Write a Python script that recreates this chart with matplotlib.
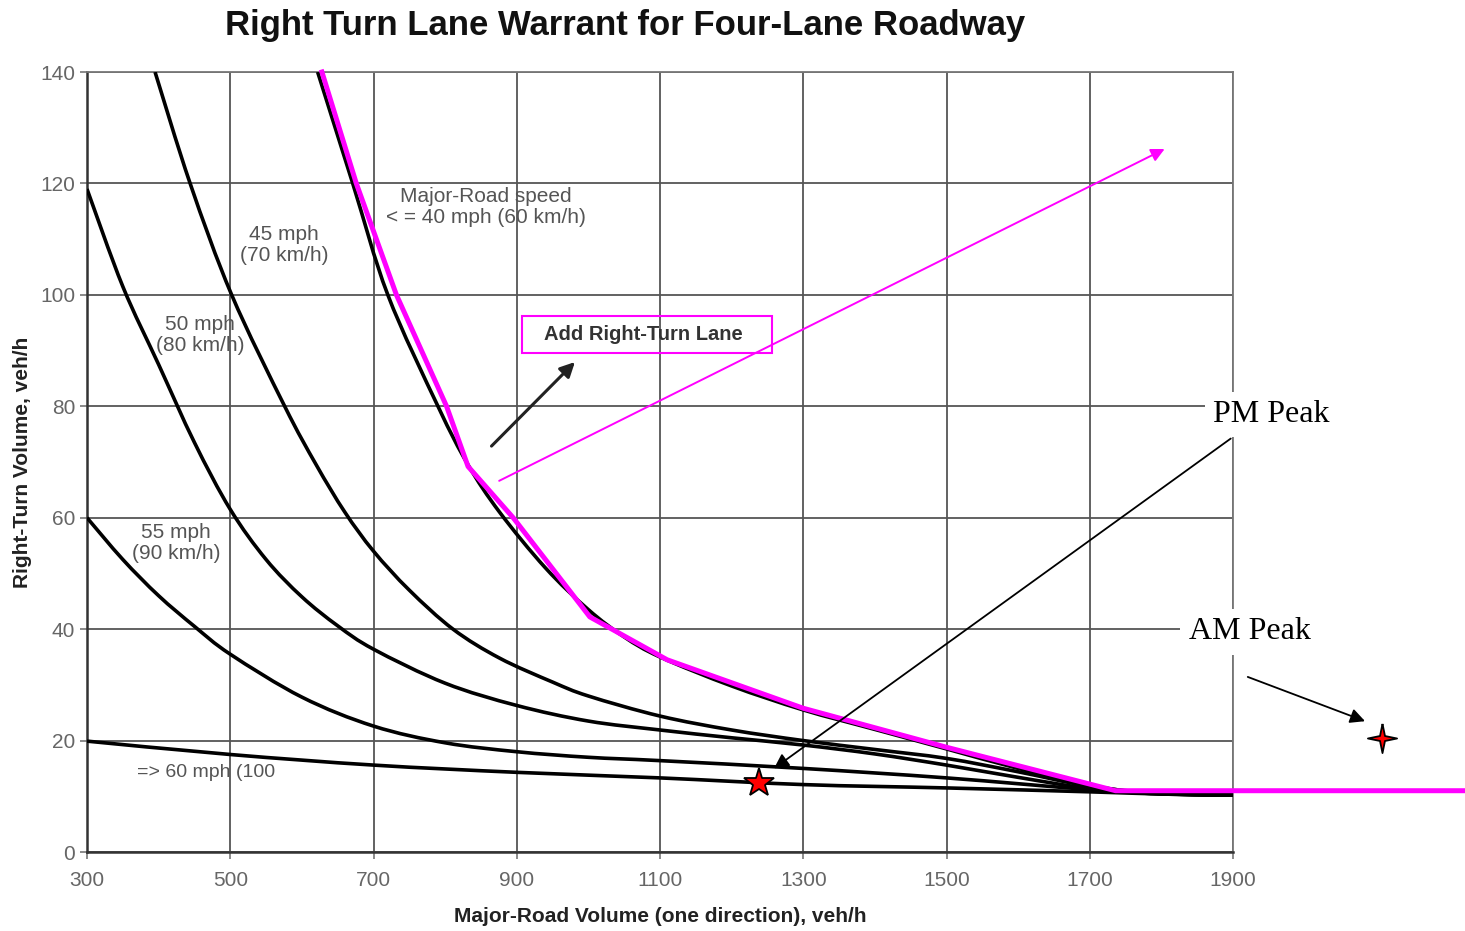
import matplotlib
matplotlib.use("Agg")
import numpy as np
import matplotlib.pyplot as plt
from matplotlib.patches import Rectangle, PathPatch
from matplotlib.path import Path

# warrant curves (major-road volume, right-turn volume)
x60 = [300, 500, 700, 900, 1100, 1300, 1500, 1700, 1800, 1900]
y60 = [19.9, 17.5, 15.6, 14.3, 13.3, 12.1, 11.5, 10.8, 10.4, 10.2]

x55 = [300, 350, 400, 450, 500, 600, 700, 800, 900, 1000, 1100, 1300, 1500, 1700, 1800, 1900]
y55 = [60, 52.5, 46, 40.5, 35.5, 27.8, 22.6, 19.6, 18.0, 17.0, 16.4, 15.0, 13.3, 11.2, 10.5, 10.2]

x50 = [300, 350, 400, 450, 500, 550, 600, 650, 700, 800, 900, 1000, 1100, 1200, 1300, 1400, 1500, 1600, 1700, 1800, 1900]
y50 = [119, 101.5, 87.5, 73.5, 61.5, 52.5, 45.8, 40.6, 36.4, 30.3, 26.3, 23.5, 21.9, 20.5, 19.2, 17.6, 15.6, 13.4, 11.4, 10.5, 10.2]

x45 = [395, 444, 502, 576, 620, 660, 700, 750, 811, 876, 950, 1000, 1100, 1200, 1300, 1400, 1500, 1600, 1700, 1800, 1900]
y45 = [140, 120, 100, 80, 69.5, 61, 54, 47, 40, 34.8, 30.5, 28, 24.4, 21.9, 20, 18.4, 16.8, 14.4, 11.8, 10.5, 10.2]

x40 = [622, 671, 720, 790, 832, 876, 940, 1000, 1050, 1100, 1200, 1300, 1400, 1500, 1600, 1700, 1760, 1800, 1900]
y40 = [140, 120, 100, 80, 69.5, 61, 51, 43.5, 38.6, 35, 29.8, 25.5, 22, 18.5, 15, 12, 10.8, 10.4, 10.2]

# hand-drawn magenta warrant line
x_mag = [628, 676, 732, 802, 832, 895, 1002, 1110, 1300, 1500, 1736, 2224]
y_mag = [140, 120, 100, 80, 69.2, 60, 42.2, 34.5, 25.8, 18.8, 11.0, 11.0]

# observed peaks
pm_peak = (1238, 12.3)
am_peak = (2108, 20.5)

x_ticks = [300, 500, 700, 900, 1100, 1300, 1500, 1700, 1900]
y_ticks = [0, 20, 40, 60, 80, 100, 120, 140]


def smooth(xs, ys):
    # draw a smooth bezier through the read points
    p = np.column_stack([xs, ys]).astype(float)
    verts, codes = [p[0]], [Path.MOVETO]
    for i in range(len(p) - 1):
        p0 = p[i - 1] if i > 0 else p[i]
        p3 = p[i + 2] if i + 2 < len(p) else p[i + 1]
        verts += [p[i] + (p[i + 1] - p0) / 6, p[i + 1] - (p3 - p[i]) / 6, p[i + 1]]
        codes += [Path.CURVE4] * 3
    return Path(verts, codes)


plt.rcParams['font.family'] = ['Liberation Sans', 'DejaVu Sans']

fig = plt.figure(figsize=(14.65, 9.31), dpi=100)
ax = fig.add_axes([87 / 1465, 79 / 931, 1146 / 1465, 780 / 931])

for xs, ys in [(x60, y60), (x55, y55), (x50, y50), (x45, y45), (x40, y40)]:
    ax.add_patch(PathPatch(smooth(xs, ys), fill=False, ec='black', lw=2.6, zorder=3))

ax.plot(x_mag, y_mag, color='#ff00ff', lw=3.6, zorder=4, clip_on=False)

ax.set_xlim(300, 1900)
ax.set_ylim(0, 140)
ax.set_xticks(x_ticks)
ax.set_yticks(y_ticks)
ax.grid(True, color='#555555', lw=1.3)
ax.set_axisbelow(True)
for side in ['top', 'right']:
    ax.spines[side].set_color('#777777')
    ax.spines[side].set_linewidth(1.3)
for side in ['left', 'bottom']:
    ax.spines[side].set_color('#333333')
    ax.spines[side].set_linewidth(1.8)
ax.tick_params(colors='#777777', labelcolor='#666666', labelsize=15, length=5, width=1.2, direction='out')
ax.tick_params(axis='x', pad=9)

ax.set_xlabel('Major-Road Volume (one direction), veh/h', fontsize=15, fontweight='bold', color='#222222', labelpad=12)
ax.set_ylabel('Right-Turn Volume, veh/h', fontsize=15, fontweight='bold', color='#222222', labelpad=6)
fig.text(625 / 1465, 1 - 26 / 931, 'Right Turn Lane Warrant for Four-Lane Roadway',
         ha='center', va='center', fontsize=25, fontweight='bold', color='#111111')

# curve labels
lab = dict(color='#555555', fontsize=15, ha='center', va='center', linespacing=1.15, zorder=5)
ax.text(857, 115.8, 'Major-Road speed\n< = 40 mph (60 km/h)', **lab)
ax.text(575, 109, '45 mph\n(70 km/h)', **lab)
ax.text(458, 92.8, '50 mph\n(80 km/h)', **lab)
ax.text(424, 55.4, '55 mph\n(90 km/h)', **lab)
ax.text(370, 14.2, '=> 60 mph (100', color='#555555', fontsize=14, ha='left', va='center', zorder=5)

# "Add Right-Turn Lane" box
ax.add_patch(Rectangle((907, 89.5), 349, 6.7, fill=False, ec='#ff00ff', lw=1.5, zorder=5))
ax.text(1077, 92.8, 'Add Right-Turn Lane', fontsize=14.5, fontweight='bold', color='#333333',
        ha='center', va='center', zorder=5)
ax.annotate('', xy=(984, 88.3), xytext=(862, 72.5),
            arrowprops=dict(arrowstyle='-|>', color='#222222', lw=2.2, mutation_scale=22), zorder=5)

# magenta arrow
ax.annotate('', xy=(1808, 126.4), xytext=(872, 66.4),
            arrowprops=dict(arrowstyle='-|>', color='#ff00ff', lw=1.4, mutation_scale=20),
            annotation_clip=False, zorder=5)

# peak markers
ax.plot(*pm_peak, marker='*', ms=22, mfc='red', mec='black', mew=1.3, zorder=6, clip_on=False)
star4 = [(0, 1), (0.17, 0.17), (1, 0), (0.17, -0.17), (0, -1), (-0.17, -0.17), (-1, 0), (-0.17, 0.17), (0, 1)]
ax.plot(*am_peak, marker=star4, ms=21, mfc='red', mec='black', mew=1.3, zorder=6, clip_on=False)

ax.annotate('', xy=(1256, 14.7), xytext=(1900, 74.5),
            arrowprops=dict(arrowstyle='-|>', color='black', lw=1.3, mutation_scale=22),
            annotation_clip=False, zorder=5)
ax.annotate('', xy=(2088, 23.3), xytext=(1917, 31.6),
            arrowprops=dict(arrowstyle='-|>', color='black', lw=1.3, mutation_scale=22),
            annotation_clip=False, zorder=5)

peak_txt = dict(fontsize=23, family='Liberation Serif', color='black', ha='left', va='center',
                bbox=dict(fc='white', ec='none', pad=6), zorder=7)
ax.text(1872, 78.5, 'PM Peak', **peak_txt)
ax.text(1838, 39.5, 'AM Peak', **peak_txt)

fig.savefig('out.png', dpi=100, facecolor='white')
